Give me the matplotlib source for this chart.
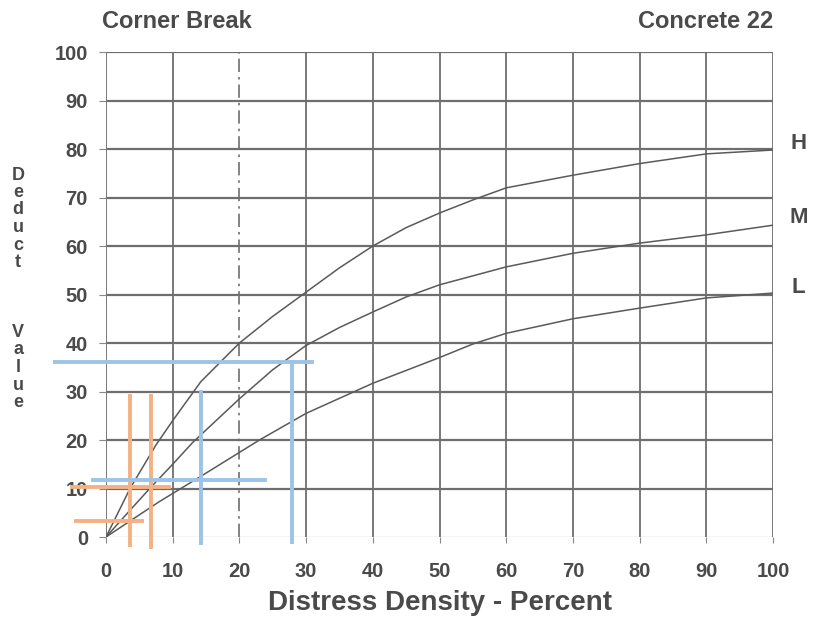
import matplotlib.pyplot as plt

# Deduct value curves for the three severity levels (density %, deduct value)
h_x = [0, 1.8, 3.6, 7.5, 10, 14.2, 20, 25, 30, 35, 40, 45, 50, 55, 60, 70, 80, 90, 100]
h_y = [0, 5, 10, 19, 24, 32, 40, 45.5, 50.5, 55.5, 60, 63.8, 66.8, 69.5, 72, 74.6, 77, 79, 79.8]

m_x = [0, 3, 6.75, 10, 13, 20, 25, 30, 35, 40, 45, 50, 60, 70, 80, 90, 100]
m_y = [0, 4.6, 10.3, 15, 19.5, 28.5, 34.5, 39.5, 43.2, 46.4, 49.5, 52, 55.7, 58.5, 60.6, 62.3, 64.3]

l_x = [0, 3.6, 8, 14.2, 23, 30, 40, 50, 55, 60, 70, 80, 90, 100]
l_y = [0, 3.3, 7.3, 12.5, 20, 25.5, 31.7, 37, 39.8, 42, 45, 47.2, 49.3, 50.3]

severity = ['H', 'M', 'L']

# reading guides drawn over the chart: (position, start, end)
orange_vert = [(3.6, -1.7, 29), (6.75, -2, 29)]
orange_horz = [(10.3, -5.1, 9.4), (3.3, -4.5, 5.4)]
blue_vert = [(27.9, -1.0, 36.1), (14.2, -1.2, 29.9)]
blue_horz = [(36.1, -7.6, 30.9), (11.8, -1.9, 23.8)]

ticks = list(range(0, 101, 10))

plt.rcParams['font.family'] = ['Liberation Sans', 'DejaVu Sans']
txt = '#4a4a4a'
grid_c = '#6e6e6e'

fig = plt.figure(figsize=(8.32, 6.4), dpi=100)
ax = fig.add_axes([0.1274, 0.1609, 0.8017, 0.7578])
ax.set_xlim(0, 100)
ax.set_ylim(0, 100)

# grid
for v in ticks[1:]:
    ax.axhline(v, color=grid_c, lw=1.6, zorder=1)
ax.axhline(0, color='#c8c8c8', lw=1.0, zorder=1)
for v in ticks:
    if v == 20:
        ax.axvline(v, color=grid_c, lw=1.2, ls=(0, (8, 3, 1.5, 3)), zorder=1)
    else:
        ax.axvline(v, color=grid_c, lw=1.3, zorder=1)
for s in ax.spines.values():
    s.set_visible(False)

# curves
for xs, ys in [(h_x, h_y), (m_x, m_y), (l_x, l_y)]:
    ax.plot(xs, ys, color='#5a5a5a', lw=1.1, zorder=3)

label_y = [81.2, 65.8, 51.5]
for name, ly in zip(severity, label_y):
    ax.text(103.8, ly, name, ha='center', va='center', fontsize=16,
            fontweight='bold', color=txt, clip_on=False)

# guide lines
for x, y0, y1 in orange_vert:
    ax.plot([x, x], [y0, y1], color='#F4B183', lw=2.8, clip_on=False, zorder=4)
for y, x0, x1 in orange_horz:
    ax.plot([x0, x1], [y, y], color='#F4B183', lw=2.8, clip_on=False, zorder=4)
for x, y0, y1 in blue_vert:
    ax.plot([x, x], [y0, y1], color='#9DC3E6', lw=2.8, clip_on=False, zorder=4)
for y, x0, x1 in blue_horz:
    ax.plot([x0, x1], [y, y], color='#9DC3E6', lw=2.8, clip_on=False, zorder=4)

ax.set_xticks(ticks)
ax.set_yticks(ticks)
ax.set_xticklabels([str(t) for t in ticks])
ax.set_yticklabels([str(t) for t in ticks])
ax.tick_params(axis='x', length=4, color='#888888', pad=14, labelsize=14.5, labelcolor=txt)
ax.tick_params(axis='y', length=5, color='#888888', pad=8, labelsize=14.5, labelcolor=txt)
for lab in ax.get_xticklabels() + ax.get_yticklabels():
    lab.set_fontweight('bold')

fig.text(102 / 832, 1 - 22 / 640, 'Corner Break', ha='left', va='center',
         fontsize=17, fontweight='bold', color=txt)
fig.text(773 / 832, 1 - 22 / 640, 'Concrete 22', ha='right', va='center',
         fontsize=17, fontweight='bold', color=txt)
fig.text(440 / 832, 1 - 603 / 640, 'Distress Density - Percent', ha='center',
         va='center', fontsize=20, fontweight='bold', color=txt)

# stacked vertical axis title
ylabel = 'Deduct   Value'
for i, ch in enumerate(ylabel):
    if ch == ' ':
        continue
    fig.text(18 / 832, 1 - (175 + i * 17.5) / 640, ch, ha='center', va='center',
             fontsize=13, fontweight='bold', color=txt)

fig.savefig('out.png', dpi=100, facecolor='white')
